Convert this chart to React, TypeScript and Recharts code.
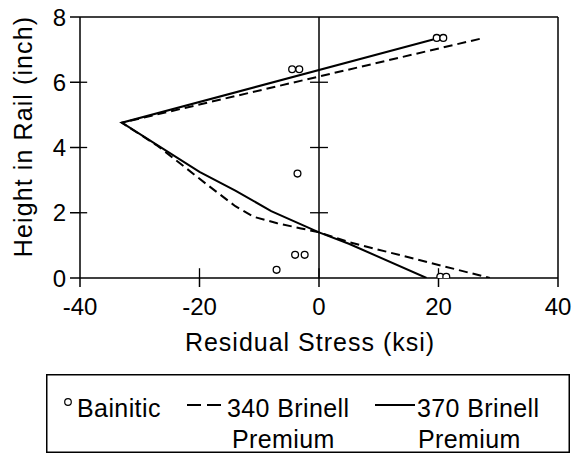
import React from 'react';
import {
  ComposedChart,
  Line,
  Scatter,
  XAxis,
  YAxis,
  ReferenceLine,
  Legend,
  Label,
} from 'recharts';

// Bainitic rail measurements (circles)
const bainiticX = [19.7, 20.8, -4.5, -3.3, -3.6, -4.0, -2.4, -7.1, 20.3, 21.3];
const bainiticY = [7.36, 7.36, 6.4, 6.4, 3.2, 0.71, 0.71, 0.25, 0.04, 0.04];

// 340 Brinell premium (dashed)
const brinell340X = [26.9, -33, -27, -19, -14, -11, -7, -3, 0, 5, 28.6];
const brinell340Y = [7.33, 4.76, 4.05, 2.9, 2.2, 1.88, 1.68, 1.52, 1.4, 1.1, 0];

// 370 Brinell premium (solid)
const brinell370X = [19.1, -33, -20, -14, -8, 0, 5, 18];
const brinell370Y = [7.31, 4.76, 3.25, 2.68, 2.05, 1.4, 1.05, 0];

const xTicks = [-40, -20, 0, 20, 40];
const yTicks = [0, 2, 4, 6, 8];

const zip = (xs: number[], ys: number[]) => xs.map((x, i) => ({ x, y: ys[i] }));

const bainitic = zip(bainiticX, bainiticY);
const brinell340 = zip(brinell340X, brinell340Y);
const brinell370 = zip(brinell370X, brinell370Y);

const FONT = "'Liberation Sans', Arial, Helvetica, sans-serif";

const LegendBox = () => (
  <svg width={524} height={79} style={{ display: 'block', fontFamily: FONT }}>
    <rect x={0.75} y={0.75} width={522.5} height={77.5} fill="#fff" stroke="#000" strokeWidth={1.5} />
    <circle cx={22} cy={28} r={3.3} fill="#fff" stroke="#000" strokeWidth={1.2} />
    <text x={31} y={43} fontSize={25} letterSpacing={0.4} fill="#000">Bainitic</text>
    <line x1={141} y1={31} x2={176} y2={31} stroke="#000" strokeWidth={2} strokeDasharray="14 6" />
    <text x={181} y={43} fontSize={25} letterSpacing={0.4} fill="#000">340 Brinell</text>
    <text x={186} y={74} fontSize={25} letterSpacing={0.4} fill="#000">Premium</text>
    <line x1={329} y1={31} x2={369} y2={31} stroke="#000" strokeWidth={2} />
    <text x={371} y={43} fontSize={25} letterSpacing={0.4} fill="#000">370 Brinell</text>
    <text x={372} y={74} fontSize={25} letterSpacing={0.4} fill="#000">Premium</text>
  </svg>
);

const Ring = (props: any) => {
  const { cx, cy } = props;
  if (cx == null || cy == null) return null;
  return <circle cx={cx} cy={cy} r={3.4} fill="#fff" stroke="#000" strokeWidth={1.3} />;
};

export default function App() {
  return (
    <div style={{ position: 'absolute', left: 0, top: 0, width: 572, height: 461, background: '#fff' }}>
      <ComposedChart
        width={572}
        height={461}
        margin={{ top: 17, right: 14, bottom: 123, left: 0 }}
        style={{ fontFamily: FONT }}
      >
        <XAxis
          dataKey="x"
          type="number"
          domain={[-40, 40]}
          ticks={xTicks}
          allowDataOverflow
          height={60}
          stroke="#000"
          strokeWidth={1.5}
          tickSize={9}
          tickMargin={11}
          tick={{ fill: '#000', fontSize: 24 }}
        >
          <Label
            content={({ viewBox }: any) => (
              <text
                x={viewBox.x + viewBox.width / 2 - 9}
                y={viewBox.y + 73}
                textAnchor="middle"
                fontSize={25}
                letterSpacing={1}
                fill="#000"
              >
                Residual Stress (ksi)
              </text>
            )}
          />
        </XAxis>
        <YAxis
          dataKey="y"
          type="number"
          domain={[0, 8]}
          ticks={yTicks}
          allowDataOverflow
          width={80}
          stroke="#000"
          strokeWidth={1.5}
          tickSize={10}
          tickMargin={4}
          tick={{ fill: '#000', fontSize: 24 }}
        >
          <Label
            content={({ viewBox }: any) => {
              const cx = viewBox.x + 23;
              const cy = viewBox.y + viewBox.height / 2 - 11;
              return (
                <text
                  x={cx}
                  y={cy}
                  transform={`rotate(-90 ${cx} ${cy})`}
                  textAnchor="middle"
                  dominantBaseline="central"
                  fontSize={25}
                  letterSpacing={1.1}
                  fill="#000"
                >
                  Height in Rail (inch)
                </text>
              );
            }}
          />
        </YAxis>

        {/* frame: top and right edges, zero line */}
        <ReferenceLine y={8} stroke="#000" strokeWidth={1.5} />
        <ReferenceLine x={40} stroke="#000" strokeWidth={1.5} />
        <ReferenceLine x={0} stroke="#000" strokeWidth={1.5} />

        {/* inward tick marks */}
        {[-20, 0, 20].map((t) => (
          <ReferenceLine key={`xt${t}`} segment={[{ x: t, y: 0 }, { x: t, y: 0.3 }]} stroke="#000" strokeWidth={1.3} />
        ))}
        {[2, 4, 6].map((t) => (
          <ReferenceLine key={`yt${t}`} segment={[{ x: -40, y: t }, { x: -38.8, y: t }]} stroke="#000" strokeWidth={1.3} />
        ))}
        {[2, 4, 6].map((t) => (
          <ReferenceLine key={`zt${t}`} segment={[{ x: -1.5, y: t }, { x: 1.5, y: t }]} stroke="#000" strokeWidth={1.3} />
        ))}

        <Line
          data={brinell340}
          dataKey="y"
          name="340 Brinell Premium"
          stroke="#000"
          strokeWidth={2}
          strokeDasharray="9 5"
          dot={false}
          activeDot={false}
          isAnimationActive={false}
        />
        <Line
          data={brinell370}
          dataKey="y"
          name="370 Brinell Premium"
          stroke="#000"
          strokeWidth={2}
          dot={false}
          activeDot={false}
          isAnimationActive={false}
        />
        <Scatter
          data={bainitic}
          dataKey="y"
          name="Bainitic"
          shape={<Ring />}
          isAnimationActive={false}
        />

        <Legend
          layout="vertical"
          align="center"
          verticalAlign="middle"
          content={() => <LegendBox />}
          wrapperStyle={{ left: 46, top: 374, width: 524, height: 79, margin: 0 }}
        />
      </ComposedChart>
    </div>
  );
}
